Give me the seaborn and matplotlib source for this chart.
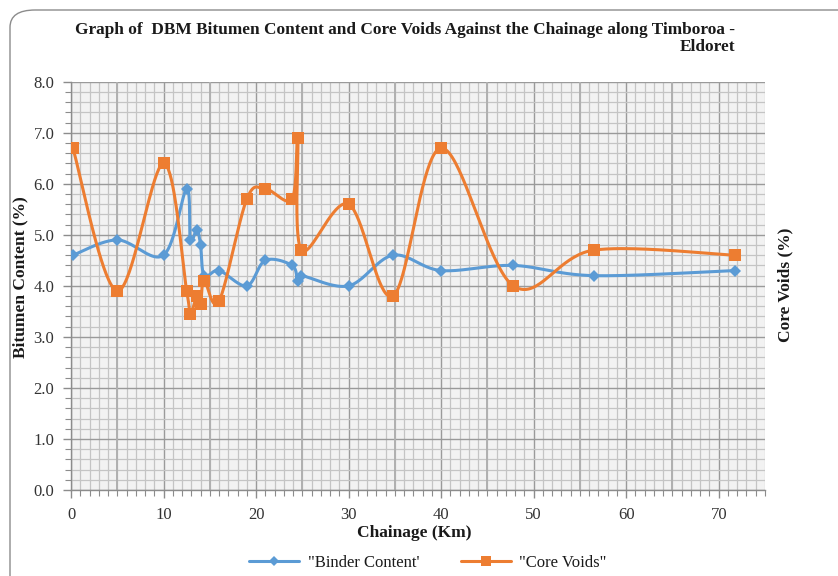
import numpy as np
import pandas as pd
import matplotlib
matplotlib.use("Agg")
import matplotlib.pyplot as plt
from matplotlib.lines import Line2D
from matplotlib.patches import FancyBboxPatch
import seaborn as sns

# Chainage (km) and test results along the Timboroa - Eldoret section
chainage = [0.2, 5.0, 10.0, 12.5, 12.9, 13.6, 14.0, 14.4, 16.0, 19.0, 21.0,
            23.9, 24.5, 24.9, 30.0, 34.8, 40.0, 47.8, 56.5, 71.8]
binder_content = [4.6, 4.9, 4.6, 5.9, 4.9, 5.1, 4.8, 4.2, 4.3, 4.0, 4.5,
                  4.4, 4.1, 4.2, 4.0, 4.6, 4.3, 4.4, 4.2, 4.3]
core_voids = [6.7, 3.9, 6.4, 3.9, 3.45, 3.8, 3.65, 4.1, 3.7, 5.7, 5.9,
              5.7, 6.9, 4.7, 5.6, 3.8, 6.7, 4.0, 4.7, 4.6]

series_names = ["\"Binder Content'", "\"Core Voids\""]
x_ticks = [0, 10, 20, 30, 40, 50, 60, 70]
y_ticks = [0.0, 1.0, 2.0, 3.0, 4.0, 5.0, 6.0, 7.0, 8.0]

BLUE = "#5B9BD5"
ORANGE = "#ED7D31"


def smooth_curve(xs, ys, n=40):
    """Cardinal (Catmull-Rom) Bezier smoothing through every point."""
    p = np.column_stack([xs, ys]).astype(float)
    ext = np.vstack([p[0], p, p[-1]])
    out = []
    for i in range(len(p) - 1):
        p0, p1, p2, p3 = ext[i], ext[i + 1], ext[i + 2], ext[i + 3]
        c1 = p1 + (p2 - p0) / 6.0
        c2 = p2 - (p3 - p1) / 6.0
        t = np.linspace(0, 1, n, endpoint=(i == len(p) - 2))[:, None]
        seg = ((1 - t) ** 3) * p1 + 3 * ((1 - t) ** 2) * t * c1 \
            + 3 * (1 - t) * t ** 2 * c2 + t ** 3 * p2
        out.append(seg)
    out = np.vstack(out)
    return out[:, 0], out[:, 1]


sns.set_theme(style="white")
plt.rcParams["font.family"] = ["Liberation Serif", "DejaVu Serif"]

fig = plt.figure(figsize=(8.38, 5.76), dpi=100)
ax = fig.add_axes([71 / 838, 1 - 490 / 576, (765 - 71) / 838, (490 - 81.7) / 576])
ax.set_facecolor("#F2F2F2")

# outer chart frame with rounded corner
frame = FancyBboxPatch((10 / 838, -0.2), 1.2, 1.2 - 10 / 576,
                       boxstyle="round,pad=0,rounding_size=0.03",
                       transform=fig.transFigure, facecolor="none",
                       edgecolor="#8c8c8c", linewidth=1.0, zorder=0)
fig.patches.append(frame)

df_bc = pd.DataFrame({"chainage": chainage, "value": binder_content})
df_cv = pd.DataFrame({"chainage": chainage, "value": core_voids})

for df, color, marker, ms in [(df_bc, BLUE, "D", 6), (df_cv, ORANGE, "s", 8)]:
    sx, sy = smooth_curve(df["chainage"].values, df["value"].values)
    sns.lineplot(x=sx, y=sy, sort=False, estimator=None, color=color,
                 linewidth=2.2, ax=ax, zorder=3)
    sns.lineplot(data=df, x="chainage", y="value", sort=False, estimator=None,
                 color=color, linestyle="none", marker=marker, markersize=ms,
                 markeredgewidth=0, ax=ax, zorder=4)

ax.set_xlim(0, 75)
ax.set_ylim(0, 8)
ax.set_xticks(x_ticks)
ax.set_xticks(np.arange(0, 76, 1), minor=True)
ax.set_yticks(y_ticks)
ax.set_yticks(np.arange(0, 8.01, 0.2), minor=True)
ax.set_yticklabels([f"{v:.1f}" for v in y_ticks])
ax.set_xticklabels([str(v) for v in x_ticks])

ax.grid(which="minor", color="#C4C4C4", linewidth=0.9, zorder=1)
ax.grid(which="major", color="#9A9A9A", linewidth=1.0, zorder=1)
for xv in range(5, 75, 10):
    ax.axvline(xv, color="#B0B0B0", linewidth=1.4, zorder=1)
ax.set_axisbelow(True)

for side in ["top", "right"]:
    ax.spines[side].set_visible(False)
for side in ["left", "bottom"]:
    ax.spines[side].set_color("#8c8c8c")
    ax.spines[side].set_linewidth(1.0)

ax.tick_params(axis="both", which="major", direction="out", length=6,
               width=1.0, color="#8c8c8c", labelsize=12, labelcolor="#333333",
               left=True, bottom=True)
ax.tick_params(axis="both", which="minor", direction="out", length=4,
               width=0.8, color="#8c8c8c", left=True, bottom=True)
ax.tick_params(axis="x", pad=6)
ax.tick_params(axis="y", pad=6)

ax.set_xlabel("")
ax.set_ylabel("")

fig.text(735 / 838, 1 - 22 / 576,
         "Graph of  DBM Bitumen Content and Core Voids Against the Chainage along Timboroa -\nEldoret",
         ha="right", va="top", multialignment="right", fontsize=12.4,
         fontweight="bold", color="#1a1a1a", linespacing=1.1)

fig.text(20 / 838, 1 - 277 / 576, "Bitumen Content (%)", rotation=90,
         ha="center", va="center", fontsize=12.5, fontweight="bold", color="#1a1a1a")
fig.text(785 / 838, 1 - 285 / 576, "Core Voids (%)", rotation=90,
         ha="center", va="center", fontsize=12.5, fontweight="bold", color="#1a1a1a")
fig.text(414 / 838, 1 - 533 / 576, "Chainage (Km)", ha="center", va="center",
         fontsize=12.5, fontweight="bold", color="#1a1a1a")

handles = [
    Line2D([], [], color=BLUE, linewidth=2.2, marker="D", markersize=5,
           markeredgewidth=0),
    Line2D([], [], color=ORANGE, linewidth=2.2, marker="s", markersize=7,
           markeredgewidth=0),
]
fig.legend(handles, series_names, loc="center", ncol=2,
           bbox_to_anchor=(428 / 838, 1 - 563 / 576), frameon=False,
           fontsize=12, handlelength=3.0, columnspacing=2.5, handletextpad=0.5,
           labelcolor="#1a1a1a")

fig.savefig("out.png", dpi=100)
